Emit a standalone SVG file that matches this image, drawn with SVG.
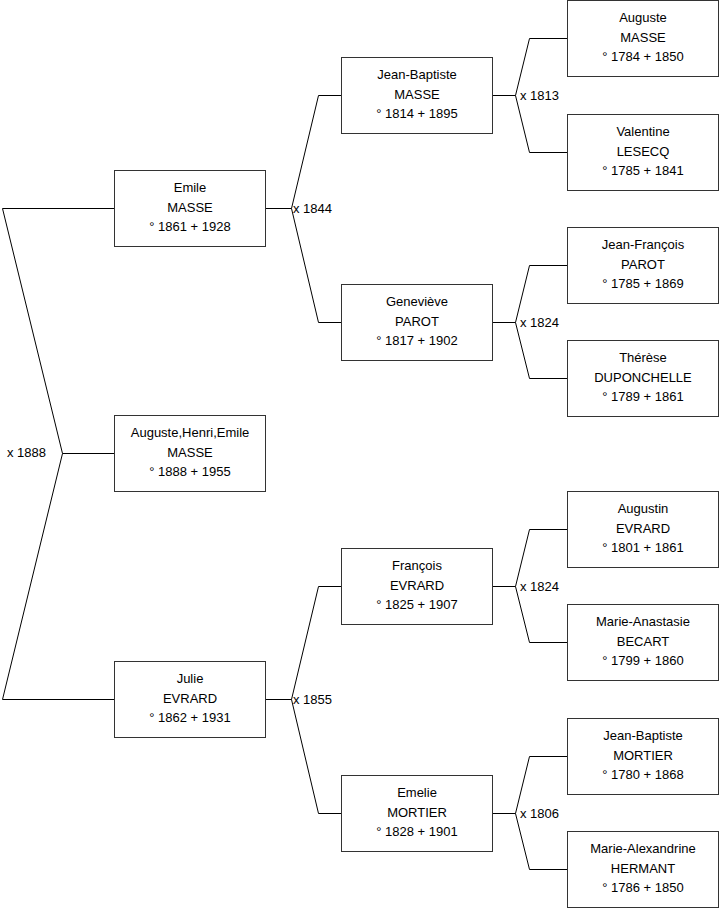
<svg xmlns="http://www.w3.org/2000/svg" width="719" height="908" viewBox="0 0 719 908">
<style>
.box{fill:#fff;stroke:#333;stroke-width:1}
.t{font-family:"Liberation Sans",Arial,sans-serif;font-size:13px;fill:#000;text-anchor:middle}
.l{font-family:"Liberation Sans",Arial,sans-serif;font-size:13px;fill:#000}
.c{fill:none;stroke:#000;stroke-width:1}
</style>
<rect width="719" height="908" fill="#fff"/>
<g id="connectors">
<path class="c" d="M114.5,208.5H2.5L62.5,453.5L2.5,699.5H114.5M62.5,453.5H114.5"/>
<path class="c" d="M265.5,208.5H291.5L318.5,95.5H341.5M291.5,208.5L318.5,322.5H341.5"/>
<path class="c" d="M265.5,699.5H291.5L318.5,586.5H341.5M291.5,699.5L318.5,813.5H341.5"/>
<path class="c" d="M492.5,95.5H515.5L529.5,38.5H567.5M515.5,95.5L529.5,152.5H567.5"/>
<path class="c" d="M492.5,322.5H515.5L529.5,265.5H567.5M515.5,322.5L529.5,378.5H567.5"/>
<path class="c" d="M492.5,586.5H515.5L529.5,529.5H567.5M515.5,586.5L529.5,642.5H567.5"/>
<path class="c" d="M492.5,813.5H515.5L529.5,756.5H567.5M515.5,813.5L529.5,869.5H567.5"/>
<text class="l" x="7" y="457">x 1888</text>
<text class="l" x="293" y="212.5">x 1844</text>
<text class="l" x="293" y="703.5">x 1855</text>
<text class="l" x="520" y="99.5">x 1813</text>
<text class="l" x="520" y="326.5">x 1824</text>
<text class="l" x="520" y="590.5">x 1824</text>
<text class="l" x="520" y="817.5">x 1806</text>
</g>
<g id="emile"><rect class="box" x="114.5" y="170.5" width="151" height="76"/><text class="t" x="190" y="192">Emile</text><text class="t" x="190" y="211.5">MASSE</text><text class="t" x="190" y="231">° 1861 + 1928</text></g>
<g id="auguste-henri"><rect class="box" x="114.5" y="415.5" width="151" height="76"/><text class="t" x="190" y="437">Auguste,Henri,Emile</text><text class="t" x="190" y="456.5">MASSE</text><text class="t" x="190" y="476">° 1888 + 1955</text></g>
<g id="julie"><rect class="box" x="114.5" y="661.5" width="151" height="76"/><text class="t" x="190" y="683">Julie</text><text class="t" x="190" y="702.5">EVRARD</text><text class="t" x="190" y="722">° 1862 + 1931</text></g>
<g id="jean-baptiste"><rect class="box" x="341.5" y="57.5" width="151" height="76"/><text class="t" x="417" y="79">Jean-Baptiste</text><text class="t" x="417" y="98.5">MASSE</text><text class="t" x="417" y="118">° 1814 + 1895</text></g>
<g id="genevieve"><rect class="box" x="341.5" y="284.5" width="151" height="76"/><text class="t" x="417" y="306">Geneviève</text><text class="t" x="417" y="325.5">PAROT</text><text class="t" x="417" y="345">° 1817 + 1902</text></g>
<g id="francois"><rect class="box" x="341.5" y="548.5" width="151" height="76"/><text class="t" x="417" y="570">François</text><text class="t" x="417" y="589.5">EVRARD</text><text class="t" x="417" y="609">° 1825 + 1907</text></g>
<g id="emelie"><rect class="box" x="341.5" y="775.5" width="151" height="76"/><text class="t" x="417" y="797">Emelie</text><text class="t" x="417" y="816.5">MORTIER</text><text class="t" x="417" y="836">° 1828 + 1901</text></g>
<g id="auguste"><rect class="box" x="567.5" y="0.5" width="151" height="76"/><text class="t" x="643" y="22">Auguste</text><text class="t" x="643" y="41.5">MASSE</text><text class="t" x="643" y="61">° 1784 + 1850</text></g>
<g id="valentine"><rect class="box" x="567.5" y="114.5" width="151" height="76"/><text class="t" x="643" y="136">Valentine</text><text class="t" x="643" y="155.5">LESECQ</text><text class="t" x="643" y="175">° 1785 + 1841</text></g>
<g id="jean-francois"><rect class="box" x="567.5" y="227.5" width="151" height="76"/><text class="t" x="643" y="249">Jean-François</text><text class="t" x="643" y="268.5">PAROT</text><text class="t" x="643" y="288">° 1785 + 1869</text></g>
<g id="therese"><rect class="box" x="567.5" y="340.5" width="151" height="76"/><text class="t" x="643" y="362">Thérèse</text><text class="t" x="643" y="381.5">DUPONCHELLE</text><text class="t" x="643" y="401">° 1789 + 1861</text></g>
<g id="augustin"><rect class="box" x="567.5" y="491.5" width="151" height="76"/><text class="t" x="643" y="513">Augustin</text><text class="t" x="643" y="532.5">EVRARD</text><text class="t" x="643" y="552">° 1801 + 1861</text></g>
<g id="marie-anastasie"><rect class="box" x="567.5" y="604.5" width="151" height="76"/><text class="t" x="643" y="626">Marie-Anastasie</text><text class="t" x="643" y="645.5">BECART</text><text class="t" x="643" y="665">° 1799 + 1860</text></g>
<g id="jean-baptiste-mortier"><rect class="box" x="567.5" y="718.5" width="151" height="76"/><text class="t" x="643" y="740">Jean-Baptiste</text><text class="t" x="643" y="759.5">MORTIER</text><text class="t" x="643" y="779">° 1780 + 1868</text></g>
<g id="marie-alexandrine"><rect class="box" x="567.5" y="831.5" width="151" height="76"/><text class="t" x="643" y="853">Marie-Alexandrine</text><text class="t" x="643" y="872.5">HERMANT</text><text class="t" x="643" y="892">° 1786 + 1850</text></g>
</svg>
